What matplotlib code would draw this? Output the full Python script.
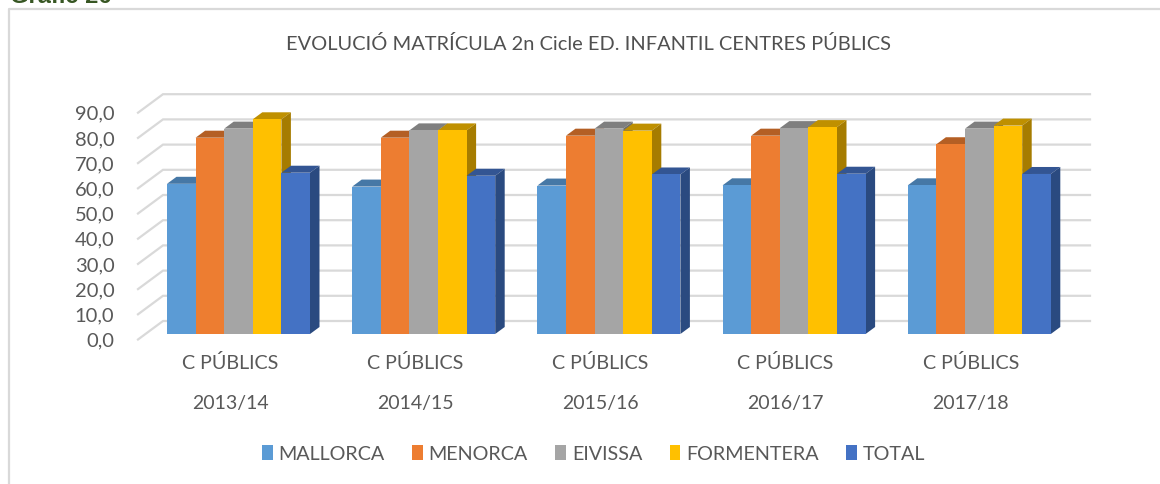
import matplotlib
matplotlib.use("Agg")
from matplotlib import pyplot as plt
from matplotlib.lines import Line2D
from matplotlib.patches import Patch, Polygon

plt.rcParams['font.family'] = ['Lato', 'DejaVu Sans']

cursos = ["2013/14", "2014/15", "2015/16", "2016/17", "2017/18"]
tipus = "C PÚBLICS"
illes = ["MALLORCA", "MENORCA", "EIVISSA", "FORMENTERA", "TOTAL"]

mallorca = [59.6, 58.5, 58.9, 59.0, 59.0]
menorca = [77.9, 77.9, 78.7, 78.7, 75.3]
eivissa = [81.5, 80.8, 81.5, 81.7, 81.5]
formentera = [85.2, 80.8, 80.7, 82.1, 82.7]
total = [64.0, 62.8, 63.3, 63.6, 63.5]
series = [mallorca, menorca, eivissa, formentera, total]

y_ticks = [0, 10, 20, 30, 40, 50, 60, 70, 80, 90]
y_labels = ["0,0", "10,0", "20,0", "30,0", "40,0", "50,0", "60,0", "70,0", "80,0", "90,0"]

front_col = ["#5B9BD5", "#ED7D31", "#A5A5A5", "#FFC000", "#4472C4"]
top_col = ["#4678A6", "#B45F24", "#7F7F7F", "#BF9000", "#335593"]
side_col = ["#3A6A96", "#A04F1C", "#6E6E6E", "#A67C00", "#2A4A80"]
text_col = "#595959"
grid_col = "#D9D9D9"

W, H = 1160, 484
px_per_cat = 185.2
px_per_val = 2.52

# pseudo 3d depth of the bars and of the floor, in data units
bar_w = 28.6 / px_per_cat
bar_dx = 9.5 / px_per_cat
bar_dy = 7.0 / px_per_val
back_x0 = (163 - 238.5) / px_per_cat
back_x1 = (1090 - 238.5) / px_per_cat
front_x0 = (138 - 238.5) / px_per_cat
back_dy = 13.0 / px_per_val
front_dy = -5.5 / px_per_val

fig = plt.figure(figsize=(W / 100, H / 100), dpi=100)
ax = fig.add_axes([138 / W, 1 - 340 / H, (1090 - 138) / W, (340 - 94) / H])
ax.set_xlim(front_x0, back_x1)
ax.set_ylim(-6 / px_per_val, (334 - 94) / px_per_val)
for s in ax.spines.values():
    s.set_visible(False)

# back wall and left wall lines
for v in y_ticks:
    ax.plot([front_x0, back_x0, back_x1], [v + front_dy, v + back_dy, v + back_dy],
            color=grid_col, lw=1.6, clip_on=False, zorder=1, solid_joinstyle="miter")

for k, vals in enumerate(series):
    for i, v in enumerate(vals):
        x0 = i + (k - 2.5) * bar_w
        x1 = x0 + bar_w
        ax.bar(x0, v, width=bar_w, align="edge", color=front_col[k], zorder=3 + 2 * k + 0.1, clip_on=False)
        ax.add_patch(Polygon([(x0, v), (x0 + bar_dx, v + bar_dy), (x1 + bar_dx, v + bar_dy), (x1, v)],
                             closed=True, fc=top_col[k], ec="none", zorder=3 + 2 * k, clip_on=False))
        ax.add_patch(Polygon([(x1, 0), (x1 + bar_dx, bar_dy), (x1 + bar_dx, v + bar_dy), (x1, v)],
                             closed=True, fc=side_col[k], ec="none", zorder=3 + 2 * k, clip_on=False))

ax.set_yticks([v + front_dy for v in y_ticks])
ax.set_yticklabels(y_labels, fontsize=14.5, color=text_col)
ax.tick_params(axis="y", length=0, pad=17)

xpos = [i - 8.5 / px_per_cat for i in range(len(cursos))]
ax.set_xticks(xpos)
ax.set_xticklabels([tipus] * len(cursos), fontsize=14.2, color=text_col)
ax.tick_params(axis="x", length=0, pad=10)
for x, c in zip(xpos, cursos):
    ax.annotate(c, (x, 0), xycoords=("data", "axes fraction"), xytext=(0, -63 * 0.72),
                textcoords="offset points", ha="center", va="center", fontsize=14, color=text_col)

handles = [Patch(fc=c, ec="none") for c in front_col]
fig.legend(handles, illes, loc="center", bbox_to_anchor=(593.5 / W, 1 - 454 / H), ncol=5, frameon=False,
           fontsize=14.2, labelcolor=text_col, handlelength=0.55, handleheight=0.8,
           handletextpad=0.3, columnspacing=1.38)

fig.text(588.5 / W, 1 - 43.5 / H, "EVOLUCIÓ MATRÍCULA 2n Cicle ED. INFANTIL CENTRES PÚBLICS",
         ha="center", va="center", fontsize=14.45, color="#505050")

# outer frame, cut off at the right and the bottom, and the heading above it
fig.add_artist(Line2D([8.5 / W, 8.5 / W, 1], [0, 1 - 9 / H, 1 - 9 / H], color=grid_col, lw=1.6))
fig.text(10 / W, 1 - 3 / H, "Gràfic 26", ha="left", va="baseline", fontsize=17,
         fontweight="bold", color="#375623", family=["Liberation Sans", "DejaVu Sans"])

fig.savefig("out.png", dpi=100)
